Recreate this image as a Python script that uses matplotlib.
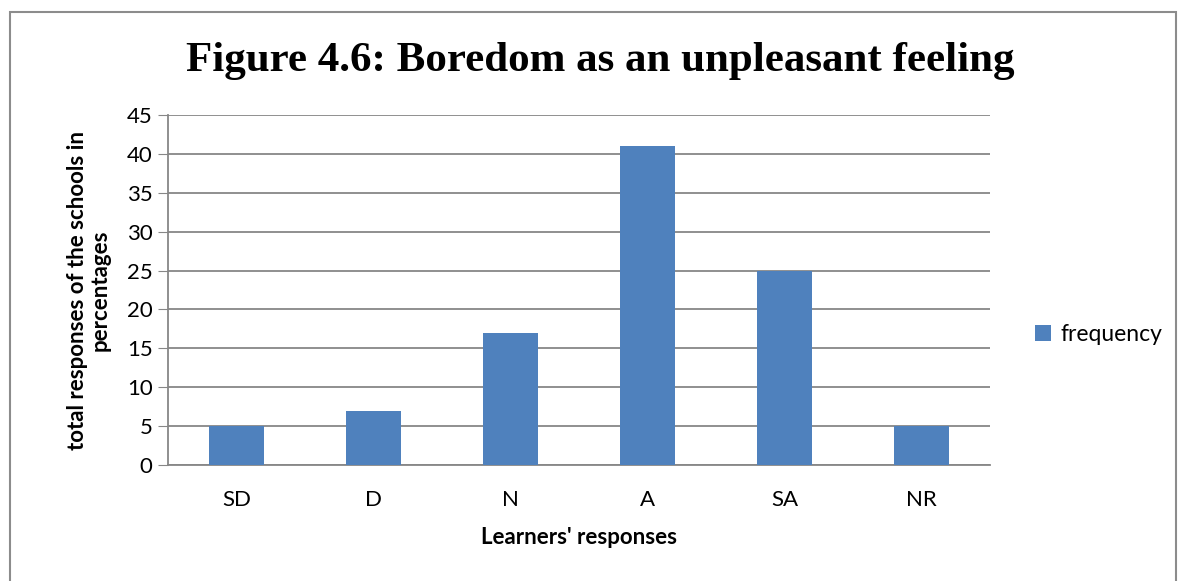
import matplotlib.pyplot as plt
from matplotlib.patches import Rectangle

categories = ["SD", "D", "N", "A", "SA", "NR"]
frequency = [5, 7, 17, 41, 25, 5]
yticks = [0, 5, 10, 15, 20, 25, 30, 35, 40, 45]

plt.rcParams["font.family"] = ["Lato", "DejaVu Sans"]

fig = plt.figure(figsize=(11.82, 5.81), dpi=100)
# outer chart border
fig.patches.append(Rectangle((10 / 1182, -0.05), 1166 / 1182, 1 - 12 / 581 + 0.05,
                             transform=fig.transFigure, fill=False,
                             edgecolor="#8c8c8c", linewidth=1.5))

ax = fig.add_axes([168 / 1182, 1 - 465 / 581, 822 / 1182, 350 / 581])
x = range(len(categories))
ax.bar(x, frequency, width=0.4, color="#4f81bd", label="frequency", zorder=3)

ax.set_xlim(-0.5, len(categories) - 0.5)
ax.set_ylim(0, 45)
ax.set_yticks(yticks)
ax.set_xticks(list(x))
ax.set_xticklabels(categories, fontsize=16)
ax.tick_params(axis="y", labelsize=16, length=7, color="#878787", pad=4)
ax.tick_params(axis="x", length=0, pad=18)
ax.grid(axis="y", color="#878787", linewidth=1.3, zorder=0)
for s in ["top", "right"]:
    ax.spines[s].set_visible(False)
ax.spines["left"].set_color("#878787")
ax.spines["bottom"].set_color("#878787")
ax.spines["left"].set_linewidth(1.3)
ax.spines["bottom"].set_linewidth(1.3)

ax.set_xlabel("Learners' responses", fontsize=16, fontweight="bold", labelpad=12)
ax.set_ylabel("total responses of the schools in\npercentages", fontsize=16,
              fontweight="bold", labelpad=12, linespacing=1.1)

fig.text(600 / 1182, 1 - 61 / 581, "Figure 4.6: Boredom as an unpleasant feeling",
         ha="center", va="center", fontsize=31, fontweight="bold",
         family=["Liberation Serif", "DejaVu Serif"])

ax.legend(loc="center left", bbox_to_anchor=(1.03, 0.372), frameon=False,
          fontsize=16.5, handlelength=0.7, handleheight=0.7, handletextpad=0.4)

fig.savefig("out.png", dpi=100)
